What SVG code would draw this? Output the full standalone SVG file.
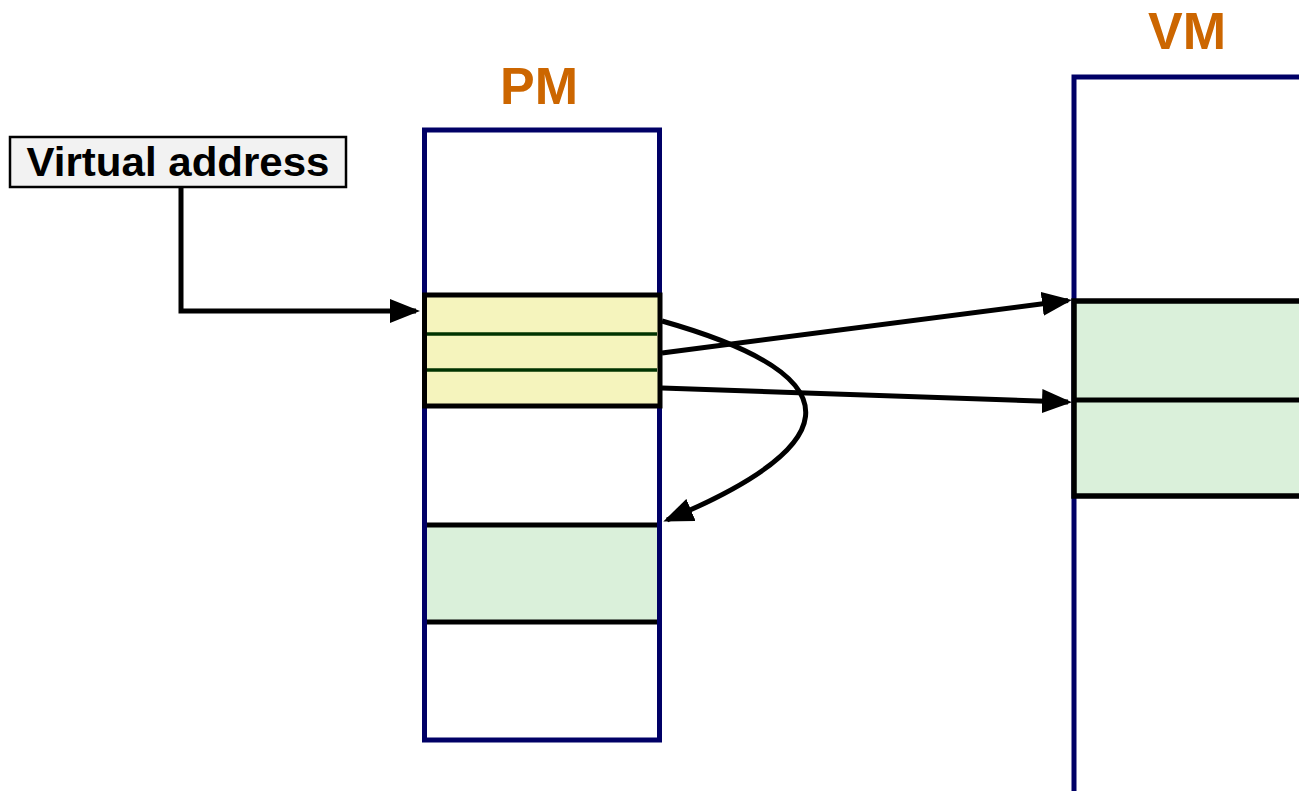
<svg xmlns="http://www.w3.org/2000/svg" width="1299" height="791" viewBox="0 0 1299 791">
<style>
.lbl{font-family:"Liberation Sans",Arial,sans-serif;font-weight:bold;fill:#cc6600;font-size:52px;text-anchor:middle}
.mem{fill:#ffffff;stroke:#000066;stroke-width:5}
.conn{fill:none;stroke:#000;stroke-width:5}
</style>
<defs>
<marker id="ah" viewBox="0 0 30 24" refX="26" refY="12" markerWidth="30" markerHeight="24" markerUnits="userSpaceOnUse" orient="auto">
<path d="M0,0 L30,12 L0,24 z" fill="#000"/>
</marker>
</defs>
<rect width="1299" height="791" fill="#fff"/>
<g id="pm">
<text class="lbl" x="539" y="104">PM</text>
<rect class="mem" x="424.5" y="130" width="235" height="610"/>
<rect x="424.5" y="295" width="235.5" height="111" fill="#f5f4bd" stroke="#000" stroke-width="5"/>
<line x1="427" y1="334" x2="657" y2="334" stroke="#003300" stroke-width="3.5"/>
<line x1="427" y1="370" x2="657" y2="370" stroke="#003300" stroke-width="3.5"/>
<rect x="427" y="525" width="230" height="97" fill="#daf0da"/>
<line x1="427" y1="525" x2="657" y2="525" stroke="#000" stroke-width="5"/>
<line x1="427" y1="622" x2="657" y2="622" stroke="#000" stroke-width="5"/>
</g>
<g id="vm">
<text class="lbl" x="1187" y="49">VM</text>
<rect class="mem" x="1074" y="77" width="300" height="800"/>
<rect x="1074" y="301" width="300" height="195" fill="#daf0da" stroke="#000" stroke-width="5.5"/>
<line x1="1074" y1="400" x2="1299" y2="400" stroke="#000" stroke-width="5"/>
</g>
<g id="va">
<rect x="10" y="137" width="336" height="50" fill="#f2f2f2" stroke="#000" stroke-width="2.5"/>
<text x="178" y="176" font-family="'Liberation Sans',Arial,sans-serif" font-weight="bold" font-size="40" text-anchor="middle" textLength="303" lengthAdjust="spacingAndGlyphs">Virtual address</text>
</g>
<g id="connectors">
<polyline class="conn" points="181,188 181,311 416,311" marker-end="url(#ah)"/>
<line class="conn" x1="662" y1="353" x2="1068" y2="300.5" marker-end="url(#ah)"/>
<line class="conn" x1="662" y1="388" x2="1068" y2="402" marker-end="url(#ah)"/>
<path class="conn" d="M662,321 C870,380 835,450 667,520" marker-end="url(#ah)"/>
</g>
</svg>
